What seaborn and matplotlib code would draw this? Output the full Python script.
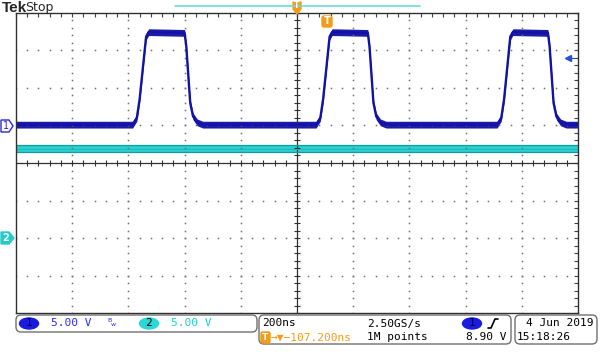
import numpy as np
import pandas as pd
import matplotlib.pyplot as plt
import seaborn as sns
from matplotlib.patches import FancyBboxPatch, Ellipse, Polygon
from matplotlib.lines import Line2D
from matplotlib.transforms import IdentityTransform

# ---- data ----
# channel 1 (blue): three pulses, time in ns from screen centre, volts
ch1_time_ns = [-1000, -585, -570, -560, -537, -528, -400, -394, -380, -370, -355, -335,
               68, 83, 93, 116, 125, 252, 258, 272, 282, 297, 317,
               712, 727, 737, 759, 768, 893, 899, 913, 923, 938, 958, 1000]
ch1_volts = [0.1, 0.1, 1.0, 3.5, 11.8, 12.4, 12.3, 10.5, 3.0, 1.2, 0.4, 0.1,
             0.1, 1.0, 3.5, 11.8, 12.4, 12.3, 10.5, 3.0, 1.2, 0.4, 0.1,
             0.1, 1.0, 3.5, 11.8, 12.4, 12.3, 10.5, 3.0, 1.2, 0.4, 0.1, 0.1]
# channel 2 (cyan): flat level
ch2_time_ns = [-1000, 1000]
ch2_volts = [11.9, 11.9]

ch1_scale, ch1_pos = 5.0, 1.0     # V/div, div offset
ch2_scale, ch2_pos = 5.0, -2.0
trigger_level = 8.90
noise = 0.45                      # half width of trace band (V)

W, H = 600, 360
BLUE = '#1212a8'
CYAN = '#2ccfcf'
ORANGE = '#f39c1b'

sns.set_style('white')
plt.rcParams['font.family'] = ['DejaVu Sans']

fig = plt.figure(figsize=(6, 3.6), dpi=100)
ax = fig.add_axes([16 / W, 1 - 313.4 / H, 562 / W, 300.8 / H])
ax.set_xlim(-1000, 1000)
ax.set_ylim(-4, 4)

# graticule dots on major lines
minor_x = np.arange(-1000, 1001, 40)
minor_y = np.arange(-4, 4.001, 0.2)
for gx in range(-800, 801, 200):
    if gx != 0:
        ax.plot([gx] * len(minor_y), minor_y, ls='none', marker='s', ms=1.1, color='#707070', mew=0)
for gy in range(-3, 4):
    if gy != 0:
        ax.plot(minor_x, [gy] * len(minor_x), ls='none', marker='s', ms=1.1, color='#707070', mew=0)

# centre cross with minor ticks
ax.axhline(0, color='#303030', lw=0.9)
ax.axvline(0, color='#303030', lw=0.9)
ax.plot(minor_x, np.zeros_like(minor_x), ls='none', marker='|', ms=5, mew=0.8, color='#303030')
ax.plot(np.zeros_like(minor_y), minor_y, ls='none', marker='_', ms=5, mew=0.8, color='#303030')

# border ticks
ax.set_xticks(minor_x)
ax.set_yticks(minor_y)
ax.tick_params(direction='in', length=3, width=0.8, color='#404040', top=True, right=True,
               labelbottom=False, labelleft=False)
for s in ax.spines.values():
    s.set_color('#303030')
    s.set_linewidth(1.0)

# channel 2 trace
df2 = pd.DataFrame({'t': ch2_time_ns, 'div': np.array(ch2_volts) / ch2_scale + ch2_pos})
ax.fill_between(df2['t'], df2['div'] - noise / ch2_scale, df2['div'] + noise / ch2_scale, color=CYAN, lw=0)
for sgn in (-1, 1):
    ax.plot(df2['t'], df2['div'] + sgn * noise / ch2_scale, color='#0a9e9e', lw=0.9)
sns.lineplot(data=df2, x='t', y='div', ax=ax, color='#1bb8b8', lw=0.6, estimator=None, sort=False)

# channel 1 trace
df1 = pd.DataFrame({'t': ch1_time_ns, 'div': np.array(ch1_volts) / ch1_scale + ch1_pos})
ax.fill_between(df1['t'], df1['div'] - noise / ch1_scale, df1['div'] + noise / ch1_scale, color='#1c1ca8', lw=0)
sns.lineplot(data=df1, x='t', y='div', ax=ax, color=BLUE, lw=1.7, estimator=None, sort=False)
ax.set_xlabel('')
ax.set_ylabel('')

# trigger level arrow (right edge)
tl = trigger_level / ch1_scale + ch1_pos
ax.plot([965], [tl], marker='<', ms=4, color='#2a4fe0', clip_on=False)
ax.plot([968, 990], [tl, tl], color='#2a4fe0', lw=0.8)

# ---- screen furniture in pixel coords ----
T = IdentityTransform()


def P(x, y):
    return (x, H - y)


def ftext(x, y, s, **kw):
    fig.text(x / W, 1 - y / H, s, va='center', **kw)


ftext(2, 8, 'Tek', fontsize=11, fontweight='bold', family='Liberation Sans')
ftext(25, 7, 'Stop', fontsize=9)
fig.add_artist(Line2D([175 / W, 420 / W], [1 - 6 / H, 1 - 6 / H], color='#6fdada', lw=1.2))

# horizontal position marker
fig.add_artist(Polygon([P(293, 2), P(301, 2), P(301, 9), P(297, 14), P(293, 9)],
                       closed=True, transform=T, color=ORANGE))
ftext(297, 6, 'T', fontsize=5.5, color='white', ha='center', fontweight='bold')
# trigger position marker
fig.add_artist(FancyBboxPatch(P(322, 27), 10, 11, boxstyle='round,pad=0,rounding_size=2',
                              transform=T, color=ORANGE))
ftext(327, 21.5, 'T', fontsize=7, color='white', ha='center', fontweight='bold')

# channel ground markers
fig.add_artist(Polygon([P(1, 120), P(9, 120), P(13, 126), P(9, 132), P(1, 132)],
                       closed=True, transform=T, facecolor='#fffbe6', edgecolor='#2a2ae0', lw=1))
ftext(6, 126, '1', fontsize=7, color='#2a2ae0', ha='center')
fig.add_artist(Polygon([P(1, 232), P(9, 232), P(14, 238), P(9, 244), P(1, 244)],
                       closed=True, transform=T, facecolor='#22cccc', edgecolor='#22cccc', lw=1))
ftext(6, 238, '2', fontsize=7, color='white', ha='center', fontweight='bold')

# status boxes
for x0, y0, x1, y1 in [(16, 315, 257, 332), (259, 315, 511, 344), (515, 315, 597, 344)]:
    fig.add_artist(FancyBboxPatch(P(x0, y1), x1 - x0, y1 - y0, boxstyle='round,pad=0,rounding_size=5',
                                  transform=T, facecolor='white', edgecolor='#707070', lw=1))

mono = dict(family='DejaVu Sans Mono', fontsize=8)
r1, r2 = 323.5, 337.5

fig.add_artist(Ellipse(P(29, r1), 19, 11, transform=T, color='#1a1ae0'))
ftext(29, r1, '1', color='#000050', ha='center', **mono)
ftext(51, r1, '5.00 V', color='#2a2aff', **mono)
ftext(107, r1 - 3, 'B', color='#2a2aff', fontsize=4.5)
ftext(111, r1 + 1, 'w', color='#2a2aff', fontsize=4.5)
fig.add_artist(Ellipse(P(149, r1), 19, 11, transform=T, color='#2ad8d8'))
ftext(149, r1, '2', color='black', ha='center', **mono)
ftext(171, r1, '5.00 V', color='#22d0d0', **mono)

ftext(262, r1, '200ns', color='black', **mono)
ftext(367, r1, '2.50GS/s', color='black', **mono)
fig.add_artist(Ellipse(P(472, r1), 19, 11, transform=T, color='#1a1ae0'))
ftext(472, r1, '1', color='#000050', ha='center', **mono)
fig.add_artist(Line2D([488 / W, 491 / W, 495 / W, 498 / W],
                      [1 - 328 / H, 1 - 328 / H, 1 - 319 / H, 1 - 319 / H], color='black', lw=1.2))

fig.add_artist(FancyBboxPatch(P(261, 343), 9, 11, boxstyle='round,pad=0,rounding_size=1.5',
                              transform=T, color=ORANGE))
ftext(265.5, r2, 'T', fontsize=6.5, color='white', ha='center', fontweight='bold')
ftext(271, r2, '→▼−107.200ns', color=ORANGE, **mono)
ftext(367, r2, '1M points', color='black', **mono)
ftext(506, r2, '8.90 V', color='black', ha='right', **mono)

ftext(526, r1, '4 Jun 2019', color='black', **mono)
ftext(517, r2, '15:18:26', color='black', **mono)

fig.savefig('out.png', dpi=100, facecolor='white')
